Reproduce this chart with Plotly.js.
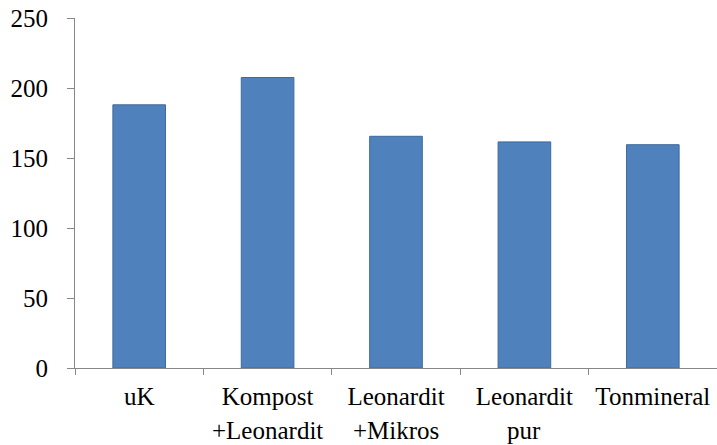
<!DOCTYPE html>
<html>
<head>
<meta charset="utf-8">
<script src="https://cdn.plot.ly/plotly-3.0.1.min.js"></script>
<style>
html,body{margin:0;padding:0;background:#fff;}
#chart{width:717px;height:445px;}
#chart text{font-family:'Liberation Serif','Times New Roman',Times,serif !important;}
</style>
</head>
<body>
<div id="chart"></div>
<script>
const categories = ["uK", "Kompost +Leonardit", "Leonardit +Mikros", "Leonardit pur", "Tonmineral"];
const labelLine1 = ["uK", "Kompost", "Leonardit", "Leonardit", "Tonmineral"];
const labelLine2 = ["", "+Leonardit", "+Mikros", "pur", ""];
const values = [188, 207.5, 165.5, 161.5, 159.5];
const yTicks = [0, 50, 100, 150, 200, 250];

const FAMILY = "Liberation Serif";
const axisColor = "#878787";

const trace = {
  type: "bar",
  x: categories,
  y: values,
  marker: {color: "#4F81BD", line: {color: "#3F6A9C", width: 1}},
  hoverinfo: "x+y"
};

const annotations = categories.map((c, i) => ({
  x: c, xref: "x", y: 0, yref: "paper",
  yanchor: "top", yshift: -47,
  text: labelLine2[i], showarrow: false,
  font: {family: FAMILY, size: 25, color: "#000"}
})).filter(a => a.text !== "");

const layout = {
  width: 717, height: 445,
  margin: {l: 75, r: 0, t: 18, b: 76.5},
  paper_bgcolor: "#fff", plot_bgcolor: "#fff",
  showlegend: false,
  bargap: 0.59,
  font: {family: FAMILY, size: 25, color: "#000"},
  xaxis: {
    type: "category",
    tickmode: "array", tickvals: categories, ticktext: labelLine1,
    tickson: "boundaries",
    ticks: "outside", ticklen: 6, tickcolor: axisColor, tickwidth: 1,
    showline: true, linecolor: axisColor, linewidth: 1,
    showgrid: false, zeroline: false,
    tickfont: {family: FAMILY, size: 25, color: "#000"},
    ticklabelstandoff: 6
  },
  yaxis: {
    range: [0, 250],
    tickmode: "array", tickvals: yTicks,
    ticks: "outside", ticklen: 7, tickcolor: axisColor, tickwidth: 1,
    showline: true, linecolor: axisColor, linewidth: 1,
    showgrid: false, zeroline: false,
    tickfont: {family: FAMILY, size: 25, color: "#000"},
    ticklabelstandoff: 14
  },
  annotations: annotations
};

Plotly.newPlot("chart", [trace], layout, {displayModeBar: false});
</script>
</body>
</html>
